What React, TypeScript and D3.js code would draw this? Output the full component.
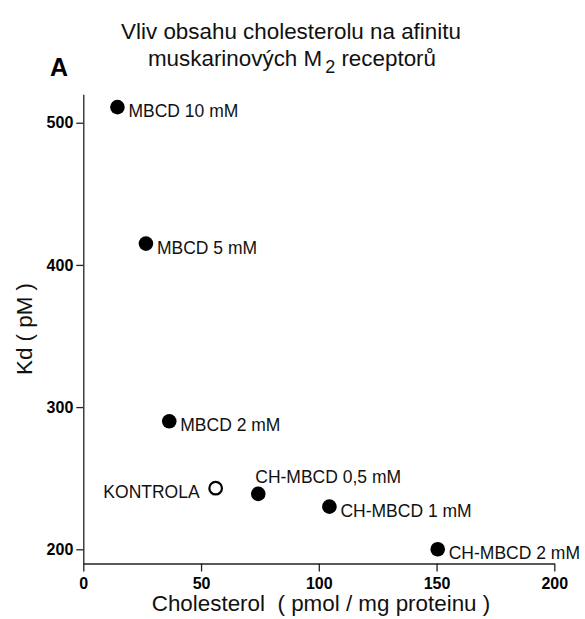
import { useEffect, useRef } from 'react';
import { select, scaleLinear, axisBottom, axisLeft } from 'd3';

const labels = [
  'MBCD 10 mM',
  'MBCD 5 mM',
  'MBCD 2 mM',
  'KONTROLA',
  'CH-MBCD 0,5 mM',
  'CH-MBCD 1 mM',
  'CH-MBCD 2 mM',
];
const cholesterol = [14.5, 26.6, 36.5, 56.2, 74.3, 104.5, 150.5];
const kd = [511, 415, 290, 243, 239, 230, 200];
const filled = [true, true, true, false, true, true, true];
const placement = ['right', 'right', 'right', 'left', 'above', 'right', 'right'];

const xTicks = [0, 50, 100, 150, 200];
const yTicks = [200, 300, 400, 500];

const FONT = "'Liberation Sans', Arial, sans-serif";
const W = 585;
const H = 619;

const App = () => {
  const svgRef = useRef(null);

  useEffect(() => {
    const svg = select(svgRef.current);
    const x = scaleLinear().domain([0, 200]).range([83.3, 554.3]);
    const y = scaleLinear().domain([190, 520]).range([563.5, 94.3]);

    const xAxis = axisBottom(x)
      .tickValues(xTicks)
      .tickSize(8)
      .tickSizeOuter(0)
      .tickPadding(6);
    const gx = svg
      .select('.x-axis')
      .attr('transform', `translate(0, ${y(190)})`)
      .call(xAxis);

    const yAxis = axisLeft(y)
      .tickValues(yTicks)
      .tickSize(7)
      .tickSizeOuter(0)
      .tickPadding(3);
    const gy = svg
      .select('.y-axis')
      .attr('transform', `translate(${x(0)}, 0)`)
      .call(yAxis);

    [gx, gy].forEach((g) => {
      g.select('.domain').attr('stroke', '#222').attr('stroke-width', 1.3);
      g.selectAll('.tick line').attr('stroke', '#222').attr('stroke-width', 1.3);
      g.selectAll('.tick text')
        .attr('fill', '#000')
        .attr('font-family', FONT)
        .attr('font-weight', 'bold')
        .attr('font-size', 16);
    });

    const pts = labels.map((label, i) => ({
      label,
      cx: cholesterol[i],
      kd: kd[i],
      filled: filled[i],
      place: placement[i],
    }));

    svg
      .select('.points')
      .selectAll('circle')
      .data(pts)
      .join('circle')
      .attr('cx', (d) => x(d.cx))
      .attr('cy', (d) => y(d.kd))
      .attr('r', (d) => (d.filled ? 7.3 : 6.3))
      .attr('fill', (d) => (d.filled ? '#000' : '#fff'))
      .attr('stroke', '#000')
      .attr('stroke-width', (d) => (d.filled ? 0 : 2.2));

    svg
      .select('.labels')
      .selectAll('text')
      .data(pts)
      .join('text')
      .attr('x', (d) =>
        d.place === 'left' ? x(d.cx) - 16 : d.place === 'above' ? x(d.cx) - 3 : x(d.cx) + 11
      )
      .attr('y', (d) => (d.place === 'above' ? y(d.kd) - 17 : y(d.kd) + 4))
      .attr('dy', '0.35em')
      .attr('text-anchor', (d) => (d.place === 'left' ? 'end' : 'start'))
      .attr('font-family', FONT)
      .attr('font-size', 17.5)
      .attr('fill', '#111')
      .text((d) => d.label);
  }, []);

  return (
    <div style={{ position: 'absolute', left: 0, top: 0 }}>
      <svg ref={svgRef} width={W} height={H} style={{ display: 'block', background: '#fff' }}>
        <text x={291} y={39} textAnchor='middle' fontFamily={FONT} fontSize={22.4} fill='#111'>
          Vliv obsahu cholesterolu na afinitu
        </text>
        <text x={292} y={66} textAnchor='middle' fontFamily={FONT} fontSize={22.4} fill='#111'>
          muskarinových M
          <tspan dx={3} dy={7} fontSize={18}>2</tspan>
          <tspan dy={-7}> receptorů</tspan>
        </text>
        <text x={50} y={76} fontFamily={FONT} fontSize={25} fontWeight='bold' fill='#000'>
          A
        </text>
        <text
          transform='translate(32, 329) rotate(-90)'
          textAnchor='middle'
          fontFamily={FONT}
          fontSize={22.4}
          fill='#111'
        >
          Kd ( pM )
        </text>
        <text x={321} y={611} textAnchor='middle' fontFamily={FONT} fontSize={22.4} fill='#111'>
          Cholesterol{'\u00a0'} ( pmol / mg proteinu )
        </text>
        <g className='x-axis' />
        <g className='y-axis' />
        <g className='points' />
        <g className='labels' />
      </svg>
    </div>
  );
};

export default App;
